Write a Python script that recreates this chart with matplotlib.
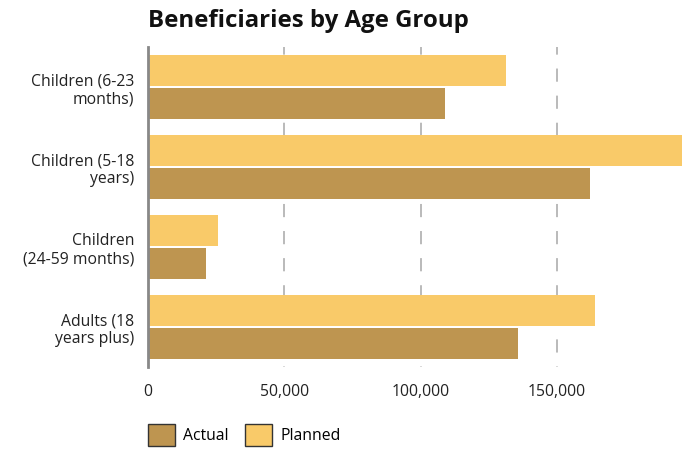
import numpy as np
import matplotlib.pyplot as plt
from matplotlib.patches import Patch

plt.rcParams['font.family'] = ['Open Sans', 'DejaVu Sans']

groups = ["Children (6-23\nmonths)", "Children (5-18\nyears)",
          "Children\n(24-59 months)", "Adults (18\nyears plus)"]
planned = [131400, 195900, 25700, 164000]
actual = [109000, 162200, 21400, 135800]
ticks = [0, 50000, 100000, 150000]

c_actual = "#be9550"
c_planned = "#f9ca69"

fig = plt.figure(figsize=(6.87, 4.49), dpi=100)
ax = fig.add_axes([148 / 687, 1 - 367 / 449, 534 / 687, 320 / 449])

y = np.arange(len(groups))
h = 0.3875
ax.barh(y - 0.206, planned, height=h, color=c_planned, zorder=2)
ax.barh(y + 0.206, actual, height=h, color=c_actual, zorder=2)

ax.set_ylim(3.5, -0.5)
ax.set_xlim(0, max(planned))
ax.set_yticks(y)
ax.set_yticklabels(groups, fontsize=11.3, color="#222222", linespacing=1.2)
ax.set_xticks(ticks)
ax.set_xticklabels([f"{t:,}" for t in ticks], fontsize=11.3, color="#222222")
ax.tick_params(axis='both', length=0)
ax.tick_params(axis='x', pad=12)
ax.tick_params(axis='y', pad=10)

for s in ["top", "right", "bottom"]:
    ax.spines[s].set_visible(False)
ax.spines["left"].set_color("#888888")
ax.spines["left"].set_linewidth(2)
ax.spines["left"].set_zorder(3)

for t in ticks[1:]:
    ax.axvline(t, color="#b4b4b4", lw=1.3, linestyle=(7, (7.3, 7.7)), zorder=1)

fig.text(148 / 687, 1 - 21 / 449, "Beneficiaries by Age Group", fontsize=17.3,
         fontweight="bold", ha="left", va="center", color="#111111")

handles = [Patch(facecolor=c_actual, edgecolor="#333333", lw=1, label="Actual"),
           Patch(facecolor=c_planned, edgecolor="#333333", lw=1, label="Planned")]
fig.legend(handles=handles, loc="center left", bbox_to_anchor=(135 / 687, 1 - 435 / 449),
           ncol=2, frameon=False, fontsize=11.3, handlelength=1.75, handleheight=1.75,
           handletextpad=0.5, columnspacing=1.05, borderpad=0.3)

fig.savefig("out.png", dpi=100)
